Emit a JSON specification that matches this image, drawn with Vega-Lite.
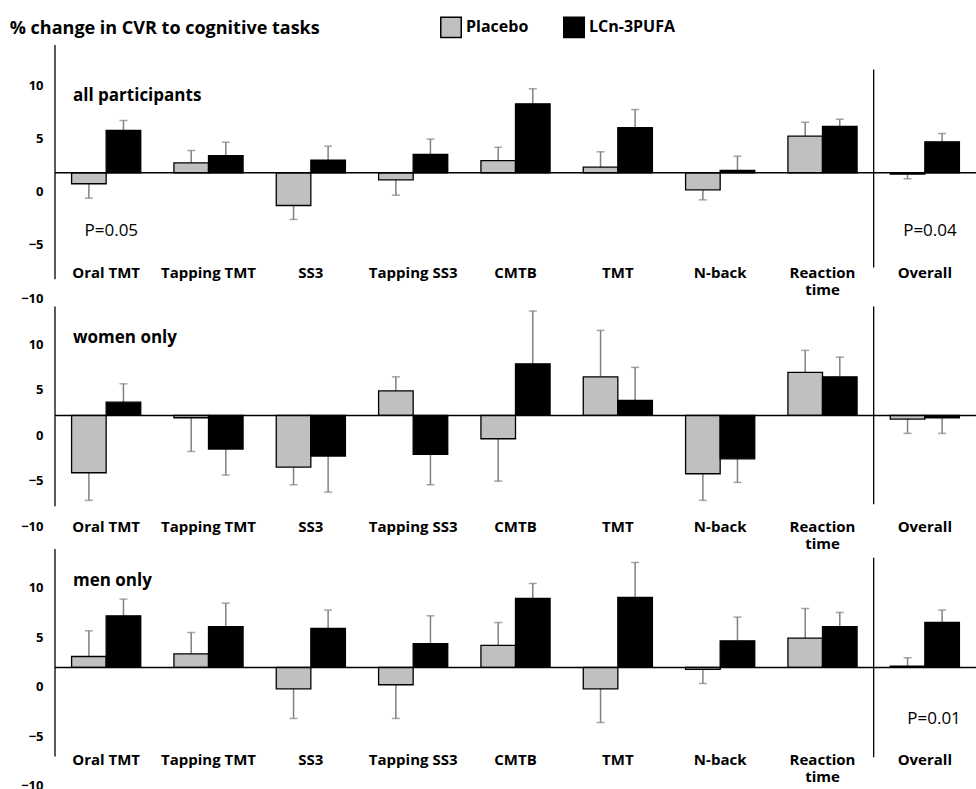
{
  "$schema": "https://vega.github.io/schema/vega-lite/v6.json",
  "padding": {"left": 9, "top": 16, "right": 0, "bottom": 0},
  "config": {
    "font": "Open Sans",
    "view": {"stroke": null},
    "axis": {"grid": false, "ticks": false, "domain": false, "labelColor": "black", "title": null}
  },
  "title": {"text": "% change in CVR to cognitive tasks", "anchor": "start", "frame": "bounds", "fontSize": 18, "fontWeight": "bold", "color": "black", "offset": -22, "dx": -11},
  "datasets": {
    "bars": [
      {"panel": "all", "task": "Oral TMT", "treatment": "Placebo", "value": -1.03, "err": -2.38},
      {"panel": "all", "task": "Oral TMT", "treatment": "LCn-3PUFA", "value": 3.97, "err": 4.91},
      {"panel": "all", "task": "Tapping TMT", "treatment": "Placebo", "value": 0.94, "err": 2.09},
      {"panel": "all", "task": "Tapping TMT", "treatment": "LCn-3PUFA", "value": 1.6, "err": 2.87},
      {"panel": "all", "task": "SS3", "treatment": "Placebo", "value": -3.07, "err": -4.38},
      {"panel": "all", "task": "SS3", "treatment": "LCn-3PUFA", "value": 1.18, "err": 2.5},
      {"panel": "all", "task": "Tapping SS3", "treatment": "Placebo", "value": -0.66, "err": -2.1},
      {"panel": "all", "task": "Tapping SS3", "treatment": "LCn-3PUFA", "value": 1.72, "err": 3.16},
      {"panel": "all", "task": "CMTB", "treatment": "Placebo", "value": 1.15, "err": 2.4},
      {"panel": "all", "task": "CMTB", "treatment": "LCn-3PUFA", "value": 6.48, "err": 7.89},
      {"panel": "all", "task": "TMT", "treatment": "Placebo", "value": 0.53, "err": 1.97},
      {"panel": "all", "task": "TMT", "treatment": "LCn-3PUFA", "value": 4.23, "err": 5.94},
      {"panel": "all", "task": "N-back", "treatment": "Placebo", "value": -1.6, "err": -2.54},
      {"panel": "all", "task": "N-back", "treatment": "LCn-3PUFA", "value": 0.22, "err": 1.56},
      {"panel": "all", "task": "Reaction time", "treatment": "Placebo", "value": 3.44, "err": 4.75},
      {"panel": "all", "task": "Reaction time", "treatment": "LCn-3PUFA", "value": 4.35, "err": 5.03},
      {"panel": "all", "task": "Overall", "treatment": "Placebo", "value": -0.13, "err": -0.56},
      {"panel": "all", "task": "Overall", "treatment": "LCn-3PUFA", "value": 2.91, "err": 3.69},
      {"panel": "women", "task": "Oral TMT", "treatment": "Placebo", "value": -6.32, "err": -9.36},
      {"panel": "women", "task": "Oral TMT", "treatment": "LCn-3PUFA", "value": 1.46, "err": 3.48},
      {"panel": "women", "task": "Tapping TMT", "treatment": "Placebo", "value": -0.26, "err": -3.97},
      {"panel": "women", "task": "Tapping TMT", "treatment": "LCn-3PUFA", "value": -3.71, "err": -6.57},
      {"panel": "women", "task": "SS3", "treatment": "Placebo", "value": -5.69, "err": -7.64},
      {"panel": "women", "task": "SS3", "treatment": "LCn-3PUFA", "value": -4.48, "err": -8.45},
      {"panel": "women", "task": "Tapping SS3", "treatment": "Placebo", "value": 2.71, "err": 4.25},
      {"panel": "women", "task": "Tapping SS3", "treatment": "LCn-3PUFA", "value": -4.3, "err": -7.64},
      {"panel": "women", "task": "CMTB", "treatment": "Placebo", "value": -2.57, "err": -7.24},
      {"panel": "women", "task": "CMTB", "treatment": "LCn-3PUFA", "value": 5.68, "err": 11.49},
      {"panel": "women", "task": "TMT", "treatment": "Placebo", "value": 4.25, "err": 9.36},
      {"panel": "women", "task": "TMT", "treatment": "LCn-3PUFA", "value": 1.65, "err": 5.29},
      {"panel": "women", "task": "N-back", "treatment": "Placebo", "value": -6.43, "err": -9.36},
      {"panel": "women", "task": "N-back", "treatment": "LCn-3PUFA", "value": -4.78, "err": -7.38},
      {"panel": "women", "task": "Reaction time", "treatment": "Placebo", "value": 4.73, "err": 7.16},
      {"panel": "women", "task": "Reaction time", "treatment": "LCn-3PUFA", "value": 4.25, "err": 6.42},
      {"panel": "women", "task": "Overall", "treatment": "Placebo", "value": -0.41, "err": -1.98},
      {"panel": "women", "task": "Overall", "treatment": "LCn-3PUFA", "value": -0.26, "err": -1.98},
      {"panel": "men", "task": "Oral TMT", "treatment": "Placebo", "value": 1.11, "err": 3.71},
      {"panel": "men", "task": "Oral TMT", "treatment": "LCn-3PUFA", "value": 5.23, "err": 6.92},
      {"panel": "men", "task": "Tapping TMT", "treatment": "Placebo", "value": 1.38, "err": 3.54},
      {"panel": "men", "task": "Tapping TMT", "treatment": "LCn-3PUFA", "value": 4.12, "err": 6.51},
      {"panel": "men", "task": "SS3", "treatment": "Placebo", "value": -2.16, "err": -5.16},
      {"panel": "men", "task": "SS3", "treatment": "LCn-3PUFA", "value": 3.95, "err": 5.81},
      {"panel": "men", "task": "Tapping SS3", "treatment": "Placebo", "value": -1.75, "err": -5.16},
      {"panel": "men", "task": "Tapping SS3", "treatment": "LCn-3PUFA", "value": 2.4, "err": 5.23},
      {"panel": "men", "task": "CMTB", "treatment": "Placebo", "value": 2.23, "err": 4.55},
      {"panel": "men", "task": "CMTB", "treatment": "LCn-3PUFA", "value": 6.98, "err": 8.5},
      {"panel": "men", "task": "TMT", "treatment": "Placebo", "value": -2.16, "err": -5.57},
      {"panel": "men", "task": "TMT", "treatment": "LCn-3PUFA", "value": 7.09, "err": 10.63},
      {"panel": "men", "task": "N-back", "treatment": "Placebo", "value": -0.2, "err": -1.62},
      {"panel": "men", "task": "N-back", "treatment": "LCn-3PUFA", "value": 2.7, "err": 5.1},
      {"panel": "men", "task": "Reaction time", "treatment": "Placebo", "value": 2.97, "err": 5.97},
      {"panel": "men", "task": "Reaction time", "treatment": "LCn-3PUFA", "value": 4.12, "err": 5.57},
      {"panel": "men", "task": "Overall", "treatment": "Placebo", "value": 0.13, "err": 0.98},
      {"panel": "men", "task": "Overall", "treatment": "LCn-3PUFA", "value": 4.55, "err": 5.81}
    ]
  },
  "vconcat": [
    {
      "width": 921, "height": 255.6,
      "layer": [
        {
          "data": {"name": "bars"},
          "transform": [{"filter": "datum.panel == 'all'"}],
          "mark": {"type": "rule", "color": "#808080", "strokeWidth": 1.5},
          "encoding": {
            "x": {"field": "task", "type": "nominal", "scale": {"domain": ["Oral TMT", "Tapping TMT", "SS3", "Tapping SS3", "CMTB", "TMT", "N-back", "Reaction time", "Overall"], "paddingInner": 0, "paddingOuter": 0},
              "axis": {"orient": "bottom", "offset": -34.9, "labelPadding": 0, "labelAngle": 0, "labelFontSize": 15, "labelFontWeight": "bold", "labelLineHeight": 17, "labelExpr": "datum.value == 'Reaction time' ? ['Reaction', 'time'] : datum.label"}},
            "xOffset": {"field": "treatment", "type": "nominal", "scale": {"domain": ["Placebo", "LCn-3PUFA"], "paddingInner": 0, "paddingOuter": 0.48}},
            "y": {"field": "value", "type": "quantitative", "scale": {"domain": [-12, 12], "nice": false},
              "axis": {"values": [-10, -5, 0, 5, 10], "labelOffset": 18.7, "labelPadding": 12, "labelFontSize": 13, "labelFontWeight": "bold", "labelFlush": false}},
            "y2": {"field": "err"}
          }
        },
        {
          "data": {"name": "bars"},
          "transform": [{"filter": "datum.panel == 'all'"}],
          "mark": {"type": "tick", "color": "#808080", "thickness": 1.5, "size": 8},
          "encoding": {
            "x": {"field": "task", "type": "nominal"},
            "xOffset": {"field": "treatment", "type": "nominal"},
            "y": {"field": "err", "type": "quantitative"}
          }
        },
        {
          "data": {"name": "bars"},
          "transform": [{"filter": "datum.panel == 'all'"}],
          "mark": {"type": "bar", "stroke": "black", "strokeWidth": 1.3},
          "encoding": {
            "x": {"field": "task", "type": "nominal"},
            "xOffset": {"field": "treatment", "type": "nominal"},
            "y": {"field": "value", "type": "quantitative"},
            "color": {"field": "treatment", "type": "nominal", "scale": {"domain": ["Placebo", "LCn-3PUFA"], "range": ["#c0c0c0", "#000000"]},
              "legend": {"orient": "none", "legendX": 385, "legendY": -29, "direction": "horizontal", "title": null, "symbolType": "square", "symbolSize": 420, "symbolStrokeColor": "black", "symbolStrokeWidth": 1.5, "symbolOpacity": 1, "labelFontSize": 16, "labelFontWeight": "bold", "labelColor": "black", "labelOffset": 4, "columnPadding": 31}}
          }
        },
        {
          "data": {"values": [{}]},
          "mark": {"type": "rule", "color": "black", "strokeWidth": 1.5},
          "encoding": {"y": {"datum": 0, "type": "quantitative"}}
        },
        {
          "data": {"values": [{}]},
          "mark": {"type": "rule", "color": "black", "strokeWidth": 1.3},
          "encoding": {"x": {"datum": "Oral TMT", "type": "nominal", "bandPosition": 0}, "y": {"datum": 12, "type": "quantitative"}, "y2": {"datum": -10}}
        },
        {
          "data": {"values": [{}]},
          "mark": {"type": "rule", "color": "black", "strokeWidth": 1.3},
          "encoding": {"x": {"datum": "Overall", "type": "nominal", "bandPosition": 0}, "y": {"datum": 9.7, "type": "quantitative"}, "y2": {"datum": -8.9}}
        },
        {
          "data": {"values": [{}]},
          "mark": {"type": "text", "align": "left", "baseline": "middle", "fontSize": 17, "fontWeight": "bold", "color": "black"},
          "encoding": {"x": {"datum": "Oral TMT", "type": "nominal", "bandPosition": 0.176}, "y": {"datum": 7.2, "type": "quantitative"}, "text": {"value": "all participants"}}
        },
        {
          "data": {"values": [{}]},
          "mark": {"type": "text", "align": "center", "baseline": "middle", "fontSize": 17, "color": "black"},
          "encoding": {"x": {"datum": "Oral TMT", "type": "nominal", "bandPosition": 0.55}, "y": {"datum": -5.5, "type": "quantitative"}, "text": {"value": "P=0.05"}}
        },
        {
          "data": {"values": [{}]},
          "mark": {"type": "text", "align": "center", "baseline": "middle", "fontSize": 17, "color": "black"},
          "encoding": {"x": {"datum": "Overall", "type": "nominal", "bandPosition": 0.55}, "y": {"datum": -5.5, "type": "quantitative"}, "text": {"value": "P=0.04"}}
        }
      ]
    },
    {
      "width": 921, "height": 240.2,
      "layer": [
        {
          "data": {"name": "bars"},
          "transform": [{"filter": "datum.panel == 'women'"}],
          "mark": {"type": "rule", "color": "#808080", "strokeWidth": 1.5},
          "encoding": {
            "x": {"field": "task", "type": "nominal", "scale": {"domain": ["Oral TMT", "Tapping TMT", "SS3", "Tapping SS3", "CMTB", "TMT", "N-back", "Reaction time", "Overall"], "paddingInner": 0, "paddingOuter": 0},
              "axis": {"orient": "bottom", "offset": -21.6, "labelPadding": 0, "labelAngle": 0, "labelFontSize": 15, "labelFontWeight": "bold", "labelLineHeight": 17, "labelExpr": "datum.value == 'Reaction time' ? ['Reaction', 'time'] : datum.label"}},
            "xOffset": {"field": "treatment", "type": "nominal", "scale": {"domain": ["Placebo", "LCn-3PUFA"], "paddingInner": 0, "paddingOuter": 0.48}},
            "y": {"field": "value", "type": "quantitative", "scale": {"domain": [-13.857, 12.6], "nice": false},
              "axis": {"values": [-10, -5, 0, 5, 10], "labelOffset": 20, "labelPadding": 12, "labelFontSize": 13, "labelFontWeight": "bold", "labelFlush": false}},
            "y2": {"field": "err"}
          }
        },
        {
          "data": {"name": "bars"},
          "transform": [{"filter": "datum.panel == 'women'"}],
          "mark": {"type": "tick", "color": "#808080", "thickness": 1.5, "size": 8},
          "encoding": {
            "x": {"field": "task", "type": "nominal"},
            "xOffset": {"field": "treatment", "type": "nominal"},
            "y": {"field": "err", "type": "quantitative"}
          }
        },
        {
          "data": {"name": "bars"},
          "transform": [{"filter": "datum.panel == 'women'"}],
          "mark": {"type": "bar", "stroke": "black", "strokeWidth": 1.3},
          "encoding": {
            "x": {"field": "task", "type": "nominal"},
            "xOffset": {"field": "treatment", "type": "nominal"},
            "y": {"field": "value", "type": "quantitative"},
            "color": {"field": "treatment", "type": "nominal"}
          }
        },
        {
          "data": {"values": [{}]},
          "mark": {"type": "rule", "color": "black", "strokeWidth": 1.5},
          "encoding": {"y": {"datum": 0, "type": "quantitative"}}
        },
        {
          "data": {"values": [{}]},
          "mark": {"type": "rule", "color": "black", "strokeWidth": 1.3},
          "encoding": {"x": {"datum": "Oral TMT", "type": "nominal", "bandPosition": 0}, "y": {"datum": 12, "type": "quantitative"}, "y2": {"datum": -10}}
        },
        {
          "data": {"values": [{}]},
          "mark": {"type": "rule", "color": "black", "strokeWidth": 1.3},
          "encoding": {"x": {"datum": "Overall", "type": "nominal", "bandPosition": 0}, "y": {"datum": 12, "type": "quantitative"}, "y2": {"datum": -9.8}}
        },
        {
          "data": {"values": [{}]},
          "mark": {"type": "text", "align": "left", "baseline": "middle", "fontSize": 17, "fontWeight": "bold", "color": "black"},
          "encoding": {"x": {"datum": "Oral TMT", "type": "nominal", "bandPosition": 0.176}, "y": {"datum": 8.5, "type": "quantitative"}, "text": {"value": "women only"}}
        }
      ]
    },
    {
      "width": 921, "height": 246,
      "layer": [
        {
          "data": {"name": "bars"},
          "transform": [{"filter": "datum.panel == 'men'"}],
          "mark": {"type": "rule", "color": "#808080", "strokeWidth": 1.5},
          "encoding": {
            "x": {"field": "task", "type": "nominal", "scale": {"domain": ["Oral TMT", "Tapping TMT", "SS3", "Tapping SS3", "CMTB", "TMT", "N-back", "Reaction time", "Overall"], "paddingInner": 0, "paddingOuter": 0},
              "axis": {"orient": "bottom", "offset": -35.4, "labelPadding": 0, "labelAngle": 0, "labelFontSize": 15, "labelFontWeight": "bold", "labelLineHeight": 17, "labelExpr": "datum.value == 'Reaction time' ? ['Reaction', 'time'] : datum.label"}},
            "xOffset": {"field": "treatment", "type": "nominal", "scale": {"domain": ["Placebo", "LCn-3PUFA"], "paddingInner": 0, "paddingOuter": 0.48}},
            "y": {"field": "value", "type": "quantitative", "scale": {"domain": [-12.2, 12.7], "nice": false},
              "axis": {"values": [-10, -5, 0, 5, 10], "labelOffset": 19.3, "labelPadding": 12, "labelFontSize": 13, "labelFontWeight": "bold", "labelFlush": false}},
            "y2": {"field": "err"}
          }
        },
        {
          "data": {"name": "bars"},
          "transform": [{"filter": "datum.panel == 'men'"}],
          "mark": {"type": "tick", "color": "#808080", "thickness": 1.5, "size": 8},
          "encoding": {
            "x": {"field": "task", "type": "nominal"},
            "xOffset": {"field": "treatment", "type": "nominal"},
            "y": {"field": "err", "type": "quantitative"}
          }
        },
        {
          "data": {"name": "bars"},
          "transform": [{"filter": "datum.panel == 'men'"}],
          "mark": {"type": "bar", "stroke": "black", "strokeWidth": 1.3},
          "encoding": {
            "x": {"field": "task", "type": "nominal"},
            "xOffset": {"field": "treatment", "type": "nominal"},
            "y": {"field": "value", "type": "quantitative"},
            "color": {"field": "treatment", "type": "nominal"}
          }
        },
        {
          "data": {"values": [{}]},
          "mark": {"type": "rule", "color": "black", "strokeWidth": 1.5},
          "encoding": {"y": {"datum": 0, "type": "quantitative"}}
        },
        {
          "data": {"values": [{}]},
          "mark": {"type": "rule", "color": "black", "strokeWidth": 1.3},
          "encoding": {"x": {"datum": "Oral TMT", "type": "nominal", "bandPosition": 0}, "y": {"datum": 12, "type": "quantitative"}, "y2": {"datum": -9}}
        },
        {
          "data": {"values": [{}]},
          "mark": {"type": "rule", "color": "black", "strokeWidth": 1.3},
          "encoding": {"x": {"datum": "Overall", "type": "nominal", "bandPosition": 0}, "y": {"datum": 11.1, "type": "quantitative"}, "y2": {"datum": -9.1}}
        },
        {
          "data": {"values": [{}]},
          "mark": {"type": "text", "align": "left", "baseline": "middle", "fontSize": 17, "fontWeight": "bold", "color": "black"},
          "encoding": {"x": {"datum": "Oral TMT", "type": "nominal", "bandPosition": 0.176}, "y": {"datum": 8.8, "type": "quantitative"}, "text": {"value": "men only"}}
        },
        {
          "data": {"values": [{}]},
          "mark": {"type": "text", "align": "center", "baseline": "middle", "fontSize": 17, "color": "black"},
          "encoding": {"x": {"datum": "Overall", "type": "nominal", "bandPosition": 0.59}, "y": {"datum": -5.2, "type": "quantitative"}, "text": {"value": "P=0.01"}}
        }
      ]
    }
  ],
  "spacing": 0,
  "bounds": "flush"
}
